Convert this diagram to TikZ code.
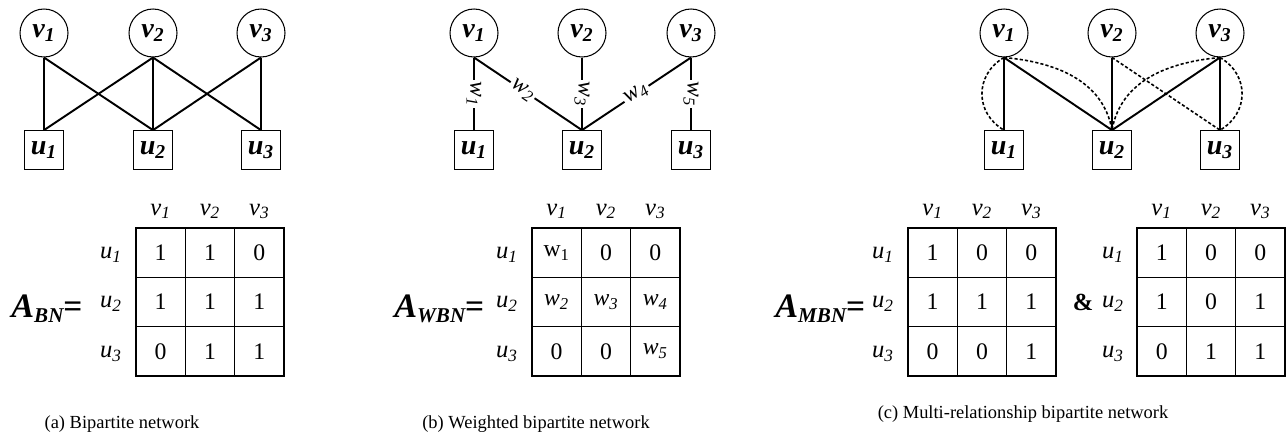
\documentclass[tikz,border=0pt]{standalone}
\usepackage{fontspec}
\setmainfont{Liberation Serif}
\usetikzlibrary{positioning}

\newcommand{\bsub}[2]{\textbf{\textit{#1\textsubscript{#2}}}}
\newcommand{\isub}[2]{\textit{#1\textsubscript{#2}}}
\newcommand{\amat}[1]{{\fontsize{19.5}{20}\selectfont\bfseries\itshape A}\raisebox{-3pt}{\fontsize{12}{12}\selectfont\bfseries\itshape #1}{\fontsize{19}{20}\selectfont\bfseries =}}

\begin{document}
\begin{tikzpicture}[x=0.02cm,y=-0.02cm,
    vnode/.style={circle,draw,line width=0.6pt,minimum size=0.96cm,inner sep=0pt,font=\fontsize{16}{16}\selectfont},
    unode/.style={draw,line width=0.7pt,minimum size=0.77cm,inner sep=0pt,font=\fontsize{16}{16}\selectfont},
    edge/.style={line width=1.1pt},
    rel/.style={line width=0.9pt,dash pattern=on 1.8pt off 1.2pt},
    wlab/.style={fill=white,inner sep=1pt,font=\fontsize{13.5}{14}\selectfont},
    cell/.style={draw,line width=0.85pt,minimum size=0.987cm,inner sep=0pt,font=\fontsize{13.5}{14}\selectfont},
    lab/.style={anchor=base,inner sep=0pt,font=\fontsize{14}{14}\selectfont},
    captext/.style={font=\fontsize{10.5}{12}\selectfont}]
    \useasboundingbox (0,0) rectangle (1288,436);

    % (a) bipartite network
    \foreach \i/\x in {1/44,2/153,3/261}{
        \node[vnode] (av\i) at (\x,33) {\bsub{v}{\i}};
        \node[unode] (au\i) at (\x,150) {\bsub{u}{\i}};
    }
    \foreach \s/\t in {1/1,1/2,2/1,2/2,2/3,3/2,3/3}
    \draw[edge] (av\s.south)--(au\t.north);

    % (b) weighted bipartite network
    \foreach \i/\x in {1/474,2/582,3/691}{
        \node[vnode] (bv\i) at (\x,33) {\bsub{v}{\i}};
        \node[unode] (bu\i) at (\x,150) {\bsub{u}{\i}};
    }
    \draw[edge] (bv1.south)--node[wlab,rotate=-90]{\isub{w}{1}}(bu1.north);
    \draw[edge] (bv1.south)--node[wlab,sloped,pos=0.45]{\isub{w}{2}}(bu2.north);
    \draw[edge] (bv2.south)--node[wlab,rotate=-90]{\isub{w}{3}}(bu2.north);
    \draw[edge] (bu2.north)--node[wlab,sloped,pos=0.5]{\isub{w}{4}}(bv3.south);
    \draw[edge] (bv3.south)--node[wlab,rotate=-90]{\isub{w}{5}}(bu3.north);

    % (c) multi-relationship bipartite network
    \foreach \i/\x in {1/1004,2/1112,3/1220}{
        \node[vnode] (cv\i) at (\x,33) {\bsub{v}{\i}};
        \node[unode] (cu\i) at (\x,150) {\bsub{u}{\i}};
    }
    \foreach \s/\t in {1/1,1/2,2/2,3/2,3/3}
    \draw[edge] (cv\s.south)--(cu\t.north);
    \draw[rel] (cv1.south) to[bend right=60,looseness=1.2] (cu1.north);
    \draw[rel] (cv1.south) to[out=-5,in=100] (cu2.north);
    \draw[rel] (cv2.south) -- (cu3.north);
    \draw[rel] (cv3.south) to[out=185,in=80] (cu2.north);
    \draw[rel] (cv3.south) to[bend left=60,looseness=1.2] (cu3.north);

    % adjacency matrices
    \node[anchor=base west,inner sep=0pt] (abn) at (11,317) {\amat{BN}};
    \begin{scope}[shift={(136,228)}]
        \foreach \r/\row in {1/{1,1,0},2/{1,1,1},3/{0,1,1}}{
            \node[lab] (ar\r) at (-25,{(\r-0.5)*49.33+6}) {\isub{u}{\r}};
            \foreach \e [count=\c] in \row
            \node[cell] (am-\r-\c) at ({(\c-0.5)*49.33},{(\r-0.5)*49.33}) {\e};
        }
        \foreach \c in {1,2,3}
        \node[lab] (ac\c) at ({(\c-0.5)*49.33},-13) {\isub{v}{\c}};
    \end{scope}

    \node[anchor=base west,inner sep=0pt] (awbn) at (394,317) {\amat{WBN}};
    \begin{scope}[shift={(532,228)}]
        \foreach \r/\row in {1/{w\textsubscript{1},0,0},2/{\isub{w}{2},\isub{w}{3},\isub{w}{4}},3/{0,0,\isub{w}{5}}}{
            \node[lab] (br\r) at (-25,{(\r-0.5)*49.33+6}) {\isub{u}{\r}};
            \foreach \e [count=\c] in \row
            \node[cell] (bm-\r-\c) at ({(\c-0.5)*49.33},{(\r-0.5)*49.33}) {\e};
        }
        \foreach \c in {1,2,3}
        \node[lab] (bc\c) at ({(\c-0.5)*49.33},-13) {\isub{v}{\c}};
    \end{scope}

    \node[anchor=base west,inner sep=0pt] (ambn) at (775,317) {\amat{MBN}};
    \begin{scope}[shift={(908,228)}]
        \foreach \r/\row in {1/{1,0,0},2/{1,1,1},3/{0,0,1}}{
            \node[lab] (cr\r) at (-25,{(\r-0.5)*49.33+6}) {\isub{u}{\r}};
            \foreach \e [count=\c] in \row
            \node[cell] (cm-\r-\c) at ({(\c-0.5)*49.33},{(\r-0.5)*49.33}) {\e};
        }
        \foreach \c in {1,2,3}
        \node[lab] (cc\c) at ({(\c-0.5)*49.33},-13) {\isub{v}{\c}};
    \end{scope}

    \node[anchor=base,inner sep=0pt,font=\fontsize{14}{14}\selectfont\bfseries] (amp) at (1083,310) {\&};
    \begin{scope}[shift={(1137,228)}]
        \foreach \r/\row in {1/{1,0,0},2/{1,0,1},3/{0,1,1}}{
            \node[lab] (dr\r) at (-24,{(\r-0.5)*49.33+6}) {\isub{u}{\r}};
            \foreach \e [count=\c] in \row
            \node[cell] (dm-\r-\c) at ({(\c-0.5)*49.33},{(\r-0.5)*49.33}) {\e};
        }
        \foreach \c in {1,2,3}
        \node[lab] (dc\c) at ({(\c-0.5)*49.33},-13) {\isub{v}{\c}};
    \end{scope}

    % captions
    \node[captext] (capa) at (122,424) {(a) Bipartite network};
    \node[captext] (capb) at (536,424) {(b) Weighted bipartite network};
    \node[captext] (capc) at (1023,414) {(c) Multi-relationship bipartite network};
\end{tikzpicture}
\end{document}
